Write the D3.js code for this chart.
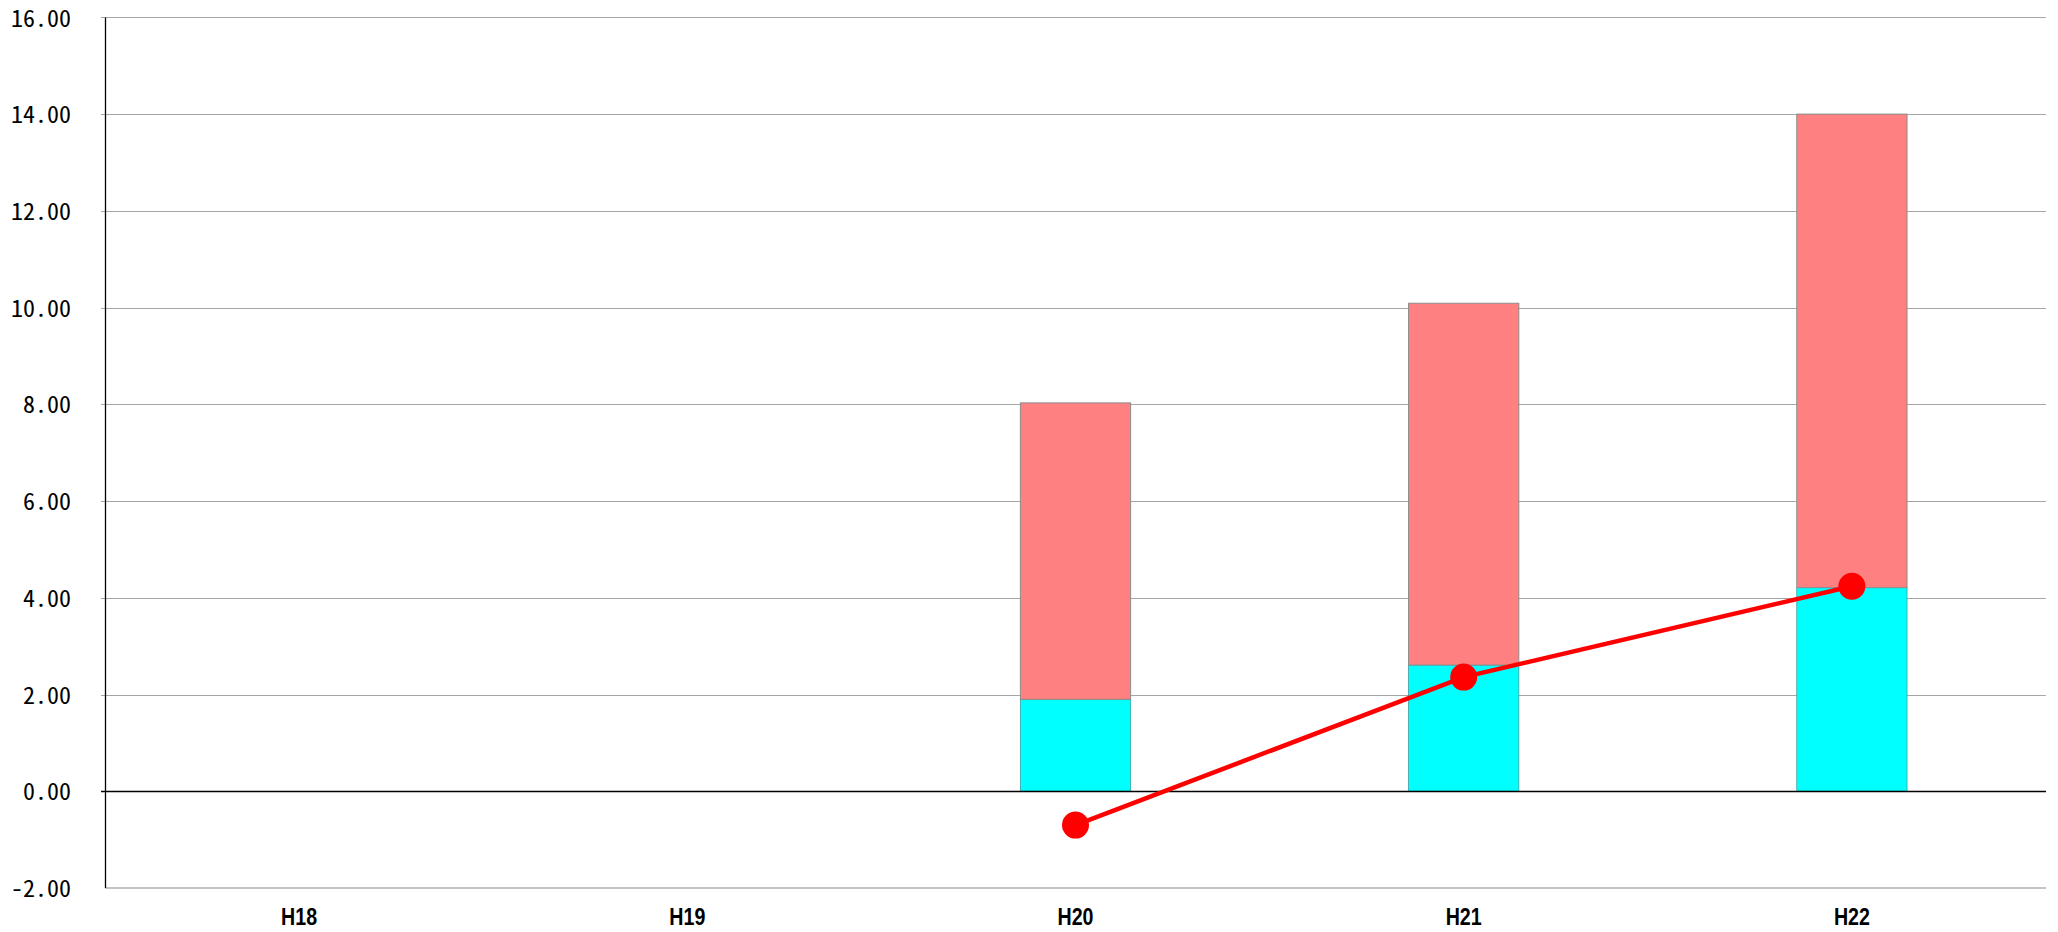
<!DOCTYPE html>
<html>
<head>
<meta charset="utf-8">
<script src="https://cdn.jsdelivr.net/npm/d3@7"></script>
<style>
html,body{margin:0;padding:0;background:#fff;}
svg{display:block;}
</style>
</head>
<body>
<svg id="chart" width="2058" height="932"></svg>
<script>
const categories = ["H18", "H19", "H20", "H21", "H22"];
const cyanValues = [null, null, 1.90, 2.61, 4.21];
const pinkValues = [null, null, 6.13, 7.48, 9.79];
const lineValues = [null, null, -0.70, 2.36, 4.24];
const yTicks = [-2, 0, 2, 4, 6, 8, 10, 12, 14, 16];
const yTickLabels = ["-2.00", "0.00", "2.00", "4.00", "6.00", "8.00", "10.00", "12.00", "14.00", "16.00"];

const svg = d3.select("#chart");
const plotLeft = 105, plotRight = 2046, plotTop = 17.4, plotBottom = 888;

const x = d3.scaleBand().domain(categories).range([plotLeft, plotRight]).padding(0);
const y = d3.scaleLinear().domain([-2, 16]).range([plotBottom, plotTop]);
const barW = x.bandwidth() * 0.284;
const cx = c => x(c) + x.bandwidth() / 2;

// gridlines
svg.append("g").selectAll("line")
  .data(yTicks.filter(t => t > 0))
  .join("line")
  .attr("x1", plotLeft - 4).attr("x2", plotRight)
  .attr("y1", d => Math.round(y(d)) + 0.5).attr("y2", d => Math.round(y(d)) + 0.5)
  .attr("stroke", "#a6a6a6").attr("stroke-width", 1);

// bottom axis line (-2)
svg.append("line")
  .attr("x1", plotLeft).attr("x2", plotRight)
  .attr("y1", y(-2)).attr("y2", y(-2))
  .attr("stroke", "#c4c4c4").attr("stroke-width", 2);

// y labels via axis
const yAxis = d3.axisLeft(y).tickValues(yTicks)
  .tickFormat((d, i) => yTickLabels[i]).tickSize(0).tickPadding(34);
const gy = svg.append("g").attr("transform", `translate(${plotLeft},0)`).call(yAxis);
gy.select(".domain").remove();
gy.selectAll("text")
  .attr("font-family", "'Noto Sans Mono CJK JP', 'Liberation Mono', monospace")
  .attr("font-size", 24).attr("fill", "#000").attr("dy", "0.36em");

// x labels via axis
const xAxis = d3.axisBottom(x).tickSize(0).tickPadding(0);
const gx = svg.append("g").attr("transform", `translate(0,${plotBottom})`).call(xAxis);
gx.select(".domain").remove();
gx.selectAll("text")
  .attr("font-family", "'Liberation Sans', Arial, sans-serif")
  .attr("font-weight", "bold").attr("font-size", 24).attr("fill", "#000")
  .attr("y", 37).attr("dy", 0)
  .attr("textLength", 36).attr("lengthAdjust", "spacingAndGlyphs");

// bars
const rows = categories.map((c, i) => ({c, cyan: cyanValues[i], pink: pinkValues[i]}))
  .filter(d => d.cyan != null);
svg.append("g").selectAll("rect.cyan").data(rows).join("rect")
  .attr("class", "cyan")
  .attr("x", d => cx(d.c) - barW / 2).attr("width", barW)
  .attr("y", d => y(d.cyan)).attr("height", d => y(0) - y(d.cyan))
  .attr("fill", "#00ffff").attr("stroke", "#3aa0a0").attr("stroke-width", 0.8);
svg.append("g").selectAll("rect.pink").data(rows).join("rect")
  .attr("class", "pink")
  .attr("x", d => cx(d.c) - barW / 2).attr("width", barW)
  .attr("y", d => y(d.cyan + d.pink)).attr("height", d => y(d.cyan) - y(d.cyan + d.pink))
  .attr("fill", "#ff8080").attr("stroke", "#8c8c8c").attr("stroke-width", 1);

// zero line and left axis
svg.append("line")
  .attr("x1", plotLeft - 4).attr("x2", plotRight)
  .attr("y1", Math.round(y(0)) + 0.5).attr("y2", Math.round(y(0)) + 0.5)
  .attr("stroke", "#000").attr("stroke-width", 1.3);
svg.append("line")
  .attr("x1", plotLeft + 0.5).attr("x2", plotLeft + 0.5)
  .attr("y1", plotTop).attr("y2", plotBottom)
  .attr("stroke", "#000").attr("stroke-width", 1.3);

// line series
const pts = categories.map((c, i) => ({c, v: lineValues[i]}));
const line = d3.line().defined(d => d.v != null).x(d => cx(d.c)).y(d => y(d.v));
svg.append("path").datum(pts).attr("d", line)
  .attr("fill", "none").attr("stroke", "#ff0000").attr("stroke-width", 4.5);
svg.append("g").selectAll("circle").data(pts.filter(d => d.v != null)).join("circle")
  .attr("cx", d => cx(d.c)).attr("cy", d => y(d.v)).attr("r", 13.5)
  .attr("fill", "#ff0000");
</script>
</body>
</html>
